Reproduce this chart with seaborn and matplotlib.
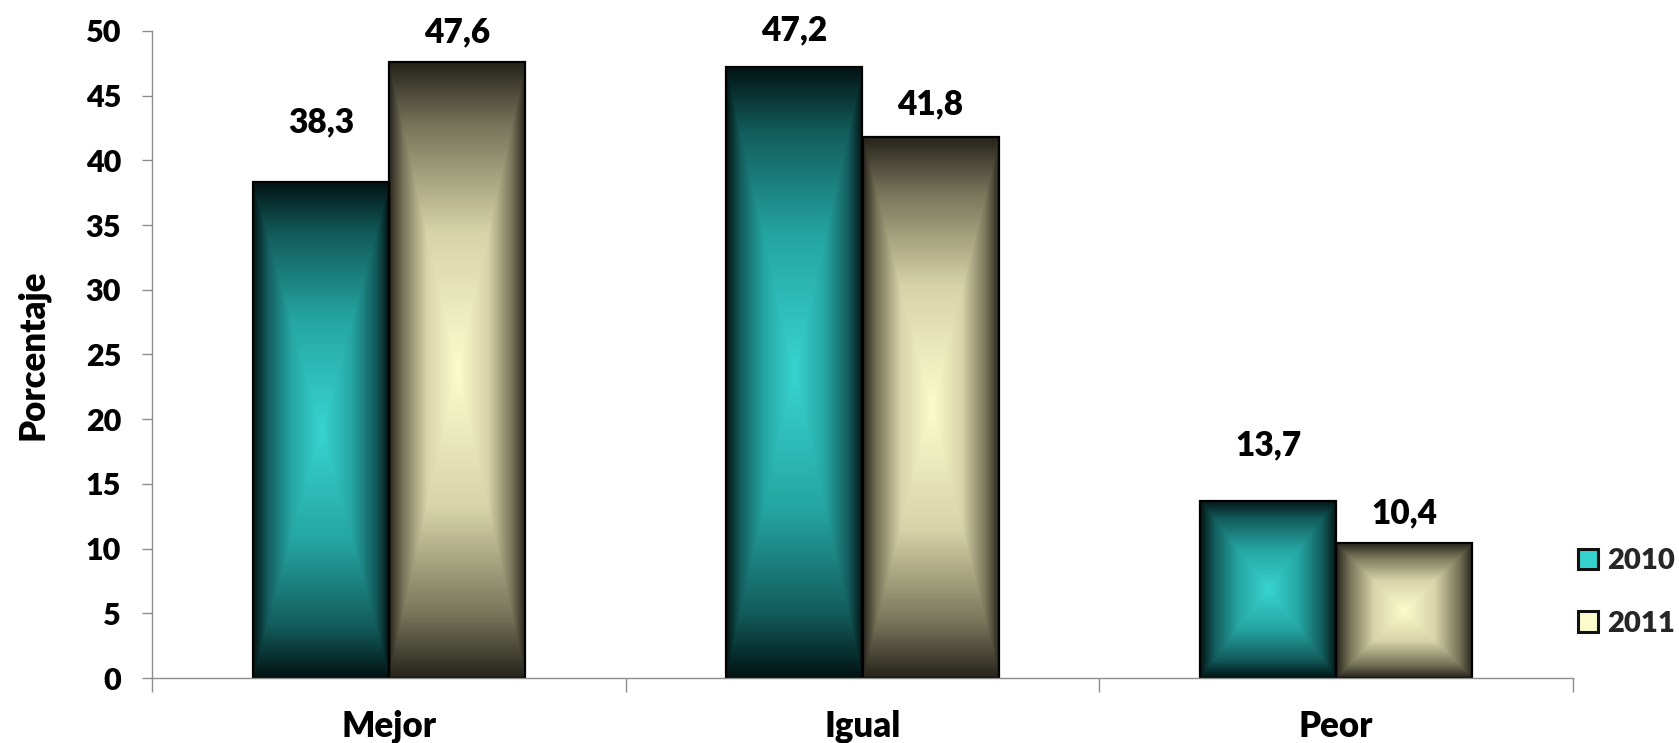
import numpy as np
import pandas as pd
import matplotlib
matplotlib.use("Agg")
import matplotlib.pyplot as plt
from matplotlib.colors import LinearSegmentedColormap
from matplotlib.patches import Rectangle
import seaborn as sns

# ---- data ----
categorias = ["Mejor", "Igual", "Peor"]
anios = ["2010", "2011"]
valores_2010 = [38.3, 47.2, 13.7]
valores_2011 = [47.6, 41.8, 10.4]
y_ticks = [0, 5, 10, 15, 20, 25, 30, 35, 40, 45, 50]

# label offsets above each bar (points), per year, as placed in the original
offset_2010 = [36, 19.5, 33]
offset_2011 = [14.5, 16.5, 14.5]

df = pd.DataFrame({
    "categoria": categorias * 2,
    "anio": [anios[0]] * 3 + [anios[1]] * 3,
    "valor": valores_2010 + valores_2011,
})

W = "heavy"
sns.set_theme(style="white")
plt.rcParams["font.family"] = ["Lato", "DejaVu Sans"]
plt.rcParams["font.weight"] = W

centro = {"2010": "#36D2CE", "2011": "#FBFBCB"}
cmaps = {
    "2010": LinearSegmentedColormap.from_list(
        "teal", [(0.0, "#38D4D0"), (0.45, "#25A5A1"), (0.8, "#125A5A"), (1.0, "#031414")]),
    "2011": LinearSegmentedColormap.from_list(
        "cream", [(0.0, "#FCFCCC"), (0.45, "#D6D4A8"), (0.8, "#77745A"), (1.0, "#27251C")]),
}
offsets = {"2010": offset_2010, "2011": offset_2011}

fig = plt.figure(figsize=(16.79, 7.43), dpi=100)
ax = fig.add_axes([152 / 1679, 1 - 678 / 743, (1573 - 152) / 1679, (678 - 31) / 743])

sns.barplot(data=df, x="categoria", y="valor", hue="anio", order=categorias,
            hue_order=anios, width=0.575, errorbar=None, legend=False,
            palette=[centro[a] for a in anios], ax=ax)

# gradient fill ("from centre" rectangular) clipped to each bar
n = 300
u = np.linspace(-1, 1, n)
U, V = np.meshgrid(u, u)
T = np.maximum(np.abs(U), np.abs(V))
for anio, cont in zip(anios, ax.containers):
    rgba = cmaps[anio](T)
    for p, val, off in zip(cont.patches, cont.datavalues, offsets[anio]):
        x0, y0, w, h = p.get_x(), p.get_y(), p.get_width(), p.get_height()
        im = ax.imshow(rgba, extent=[x0, x0 + w, y0, y0 + h], origin="lower",
                       aspect="auto", interpolation="bilinear", zorder=0.9)
        im.set_clip_path(p)
        p.set_facecolor("none")
        p.set_edgecolor("black")
        p.set_linewidth(1.6)
        ax.annotate(f"{val:.1f}".replace(".", ","), xy=(x0 + w / 2, y0 + h),
                    xytext=(0, off), textcoords="offset points", ha="center",
                    va="baseline", fontsize=24, fontweight=W, color="black")

ax.set_xlim(-0.5, 2.5)
ax.set_ylim(0, 50)
ax.set_aspect("auto")

# axes styling
for s in ["top", "right"]:
    ax.spines[s].set_visible(False)
for s in ["left", "bottom"]:
    ax.spines[s].set_color("#8c8c8c")
    ax.spines[s].set_linewidth(1.0)

ax.set_yticks(y_ticks)
ax.set_yticklabels([str(t) for t in y_ticks])
ax.tick_params(axis="y", which="major", direction="out", length=7.2, width=1.0,
               color="#8c8c8c", pad=15.0, labelsize=22, left=True)
ax.set_xticks(range(len(categorias)))
ax.set_xticklabels(categorias)
ax.set_xticks([-0.5, 0.5, 1.5, 2.5], minor=True)
ax.tick_params(axis="x", which="major", length=0, pad=23, labelsize=25)
ax.tick_params(axis="x", which="minor", direction="out", length=10, width=1.0,
               color="#8c8c8c", bottom=True)
for lab in ax.get_xticklabels() + ax.get_yticklabels():
    lab.set_fontweight(W)
    lab.set_color("black")

ax.set_xlabel("")
ax.set_ylabel("Porcentaje", fontsize=25, fontweight=W, color="black")
ax.yaxis.set_label_coords(-0.072, 0.5)
ax.grid(False)

# legend
handles = [Rectangle((0, 0), 1, 1, facecolor=centro[a], edgecolor="#111111",
                     linewidth=2.2) for a in anios]
fig.legend(handles, anios, loc="center left", bbox_to_anchor=(1578 / 1679, 1 - 592.5 / 743),
           frameon=False, prop={"weight": W, "size": 21},
           handlelength=0.7, handleheight=0.7, handletextpad=0.3,
           labelspacing=1.25, borderpad=0, borderaxespad=0)

fig.savefig("out.png", dpi=100)
